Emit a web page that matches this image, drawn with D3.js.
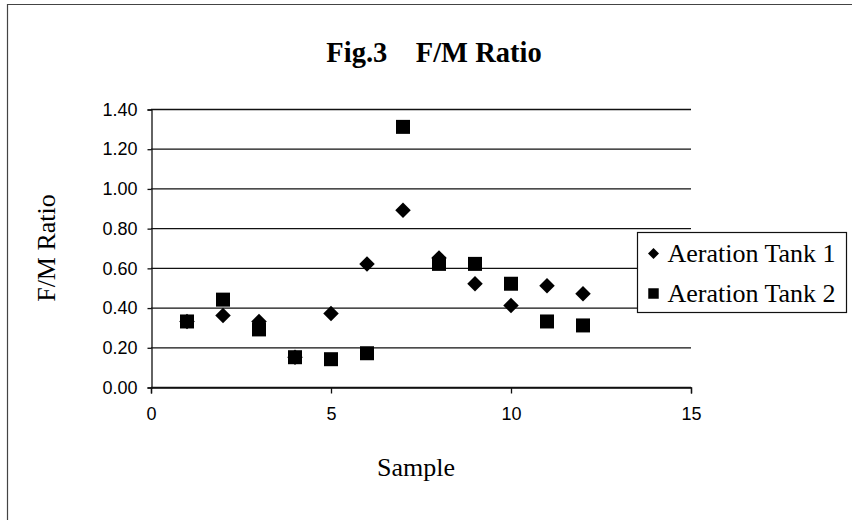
<!DOCTYPE html>
<meta charset="utf-8">
<script src="https://d3js.org/d3.v7.min.js"></script>
<style>
  body { margin: 0; background: #fff; }
</style>
<div id="chart"></div>
<script>

// data
var samples = [1, 2, 3, 4, 5, 6, 7, 8, 9, 10, 11, 12];
var tank1 = [0.33, 0.36, 0.33, 0.15, 0.37, 0.62, 0.89, 0.65, 0.52, 0.41, 0.51, 0.47];
var tank2 = [0.33, 0.44, 0.29, 0.15, 0.14, 0.17, 1.31, 0.62, 0.62, 0.52, 0.33, 0.31];
var seriesNames = ["Aeration Tank 1", "Aeration Tank 2"];
var xTicks = [0, 5, 10, 15];
var yTicks = [0, 0.2, 0.4, 0.6, 0.8, 1.0, 1.2, 1.4];

var width = 852, height = 520;
var margin = {top: 109, right: 161, bottom: 133, left: 151};

var svg = d3.select("#chart").append("svg")
    .attr("width", width)
    .attr("height", height);

// outer frame of the scanned figure (left + top edges only)
svg.append("path")
    .attr("d", "M7.5,520 V4.5 H852")
    .attr("fill", "none")
    .attr("stroke", "#444")
    .attr("stroke-width", 1.2);

var x = d3.scaleLinear().domain([0, 15]).range([margin.left, width - margin.right]);
var y = d3.scaleLinear().domain([0, 1.4]).range([height - margin.bottom, margin.top]);

// horizontal gridlines
svg.append("g")
    .selectAll("line")
    .data(yTicks)
    .enter().append("line")
    .attr("x1", x(0)).attr("x2", x(15))
    .attr("y1", function(d) { return y(d) + 0.5; })
    .attr("y2", function(d) { return y(d) + 0.5; })
    .attr("stroke", "#111")
    .attr("stroke-width", 1.3);

// y axis
var yAxis = svg.append("g")
    .attr("transform", "translate(" + (x(0) + 0.5) + ",0.5)")
    .call(d3.axisLeft(y).tickValues(yTicks).tickFormat(d3.format(".2f")).tickSize(4).tickPadding(10));
yAxis.selectAll("text")
    .style("font-family", "Liberation Sans, Arial, sans-serif")
    .style("font-size", "18px")
    .attr("fill", "#000");

// x axis
var xAxis = svg.append("g")
    .attr("transform", "translate(0," + (y(0) + 0.5) + ")")
    .call(d3.axisBottom(x).tickValues(xTicks).tickFormat(d3.format("d")).tickSize(6).tickPadding(14));
xAxis.selectAll("text")
    .style("font-family", "Liberation Sans, Arial, sans-serif")
    .style("font-size", "18px")
    .attr("fill", "#000");

svg.selectAll(".domain").attr("stroke", "#111").attr("stroke-width", 1.3);
svg.selectAll(".tick line").attr("stroke", "#111").attr("stroke-width", 1.3);

// title
svg.append("text")
    .attr("x", 434)
    .attr("y", 62)
    .attr("text-anchor", "middle")
    .style("font-family", "Liberation Serif, Times New Roman, serif")
    .style("font-weight", "bold")
    .style("font-size", "28.5px")
    .style("white-space", "pre")
    .text("Fig.3    F/M Ratio");

// axis titles
svg.append("text")
    .attr("x", 416)
    .attr("y", 476)
    .attr("text-anchor", "middle")
    .style("font-family", "Liberation Serif, Times New Roman, serif")
    .style("font-size", "26px")
    .text("Sample");

svg.append("text")
    .attr("transform", "translate(55," + y(0.7) + ") rotate(-90)")
    .attr("text-anchor", "middle")
    .style("font-family", "Liberation Serif, Times New Roman, serif")
    .style("font-size", "26px")
    .text("F/M Ratio");

// markers: diamond = square turned 45 degrees
var diamond = d3.symbol().type(d3.symbolSquare).size(120);
var square = d3.symbol().type(d3.symbolSquare).size(196);

svg.append("g")
    .selectAll("path")
    .data(tank1)
    .enter().append("path")
    .attr("d", diamond)
    .attr("transform", function(d, i) { return "translate(" + x(samples[i]) + "," + y(d) + ") rotate(45)"; })
    .attr("fill", "#000");

svg.append("g")
    .selectAll("path")
    .data(tank2)
    .enter().append("path")
    .attr("d", square)
    .attr("transform", function(d, i) { return "translate(" + x(samples[i]) + "," + y(d) + ")"; })
    .attr("fill", "#000");

// legend
var legend = svg.append("g").attr("transform", "translate(637.5,232.5)");
legend.append("rect")
    .attr("width", 209)
    .attr("height", 80)
    .attr("fill", "#fff")
    .attr("stroke", "#111")
    .attr("stroke-width", 1.2);

var legendShapes = [
    {sym: d3.symbol().type(d3.symbolSquare).size(60), rot: 45},
    {sym: d3.symbol().type(d3.symbolSquare).size(110), rot: 0}
];
seriesNames.forEach(function(name, i) {
    var row = legend.append("g").attr("transform", "translate(0," + (21 + i * 40) + ")");
    row.append("path")
        .attr("d", legendShapes[i].sym)
        .attr("transform", "translate(16,0) rotate(" + legendShapes[i].rot + ")")
        .attr("fill", "#000");
    row.append("text")
        .attr("x", 30)
        .attr("y", 8.5)
        .style("font-family", "Liberation Serif, Times New Roman, serif")
        .style("font-size", "26px")
        .text(name);
});

</script>
